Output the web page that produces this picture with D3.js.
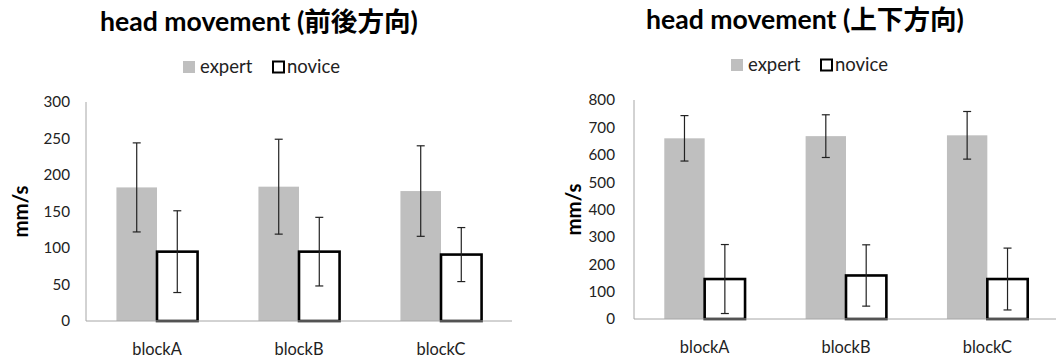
<!DOCTYPE html>
<html>
<head>
<meta charset="utf-8">
<script src="https://cdn.jsdelivr.net/npm/d3@7"></script>
<style>
  html, body { margin: 0; padding: 0; background: #fff; }
  svg { display: block; font-family: Lato, "Noto Sans CJK JP", sans-serif; }
  .title { font-weight: bold; font-family: Lato, "Noto Sans CJK JP", sans-serif; }
</style>
</head>
<body>
<svg id="chart" width="1056" height="360"></svg>
<script>
// Categories and series
const blocks = ["blockA", "blockB", "blockC"];
const seriesNames = ["expert", "novice"];

// Forward/backward head movement (mm/s): means and error bar half-widths
const fbExpert = [183, 184, 178];
const fbExpertErr = [61, 65, 62];
const fbNovice = [95, 95, 91];
const fbNoviceErr = [56, 47, 37];
const fbTicks = [0, 50, 100, 150, 200, 250, 300];

// Up/down head movement (mm/s)
const udExpert = [660, 668, 671];
const udExpertErr = [83, 78, 87];
const udNovice = [146, 159, 146];
const udNoviceErr = [126, 112, 113];
const udTicks = [0, 100, 200, 300, 400, 500, 600, 700, 800];

const svg = d3.select("#chart");

function drawPanel(opt) {
  const g = svg.append("g");
  const x0 = d3.scaleBand().domain(blocks).range([opt.left, opt.right]).padding(0);
  const barW = x0.bandwidth() / 3.5;   // two bars + 150% gap
  const x1 = d3.scaleBand().domain(seriesNames).range([0, 2 * barW]);
  const y = d3.scaleLinear().domain([0, opt.max]).range([opt.bottom, opt.top]);

  // title
  g.append("text").attr("class", "title")
    .attr("x", opt.titleX).attr("y", opt.titleY)
    .attr("text-anchor", "middle").attr("font-size", 26.6)
    .text(opt.title);

  // legend
  const lg = g.append("g").attr("transform", `translate(${opt.legendX},${opt.legendY})`);
  lg.append("rect").attr("x", 0).attr("y", -12).attr("width", 12).attr("height", 12).attr("fill", "#bfbfbf");
  lg.append("text").attr("x", 17).attr("y", 0).attr("font-size", 18.5).attr("fill", "#222").text("expert");
  lg.append("rect").attr("x", 90).attr("y", -11.5).attr("width", 11).attr("height", 11)
    .attr("fill", "#fff").attr("stroke", "#000").attr("stroke-width", 2);
  lg.append("text").attr("x", 104).attr("y", 0).attr("font-size", 18.5).attr("fill", "#222").text("novice");

  // y axis
  const yAxis = d3.axisLeft(y).tickValues(opt.ticks).tickSize(0).tickPadding(opt.tickPad);
  const ya = g.append("g").attr("transform", `translate(${opt.left},0)`).call(yAxis);
  ya.select(".domain").attr("stroke", "#a6a6a6").attr("d", `M0,${opt.top}V${opt.bottom}`);
  ya.selectAll("text").attr("font-size", 15.2).attr("fill", "#222").attr("font-family", "Lato, sans-serif");

  // y axis title
  g.append("text").attr("class", "title")
    .attr("transform", `translate(${opt.yTitleX},${(opt.top + opt.bottom) / 2}) rotate(-90)`)
    .attr("text-anchor", "middle").attr("dominant-baseline", "central")
    .attr("font-size", 20.5).text("mm/s");

  // bars
  const data = blocks.map((b, i) => ({
    block: b,
    values: [
      { s: "expert", v: opt.expert[i], e: opt.expertErr[i] },
      { s: "novice", v: opt.novice[i], e: opt.noviceErr[i] }
    ]
  }));
  const groups = g.selectAll(".grp").data(data).join("g")
    .attr("transform", d => `translate(${x0(d.block) + (x0.bandwidth() - 2 * barW) / 2},0)`);

  groups.selectAll("rect").data(d => d.values).join("rect")
    .attr("x", d => x1(d.s))
    .attr("y", d => y(d.v))
    .attr("width", barW)
    .attr("height", d => y(0) - y(d.v))
    .attr("fill", d => d.s === "expert" ? "#bfbfbf" : "#fff")
    .attr("stroke", d => d.s === "expert" ? "none" : "#000")
    .attr("stroke-width", 2.6);

  // x axis
  const xa = g.append("g").attr("transform", `translate(0,${opt.bottom})`)
    .call(d3.axisBottom(x0).tickSize(0).tickPadding(22));
  xa.select(".domain").attr("stroke", "#a6a6a6").attr("d", `M${opt.left},0H${opt.axisEnd}`);
  xa.selectAll("text").attr("font-size", 16.4).attr("fill", "#222").attr("font-family", "Lato, sans-serif");

  // error bars
  const eb = groups.selectAll(".eb").data(d => d.values).join("g").attr("class", "eb")
    .attr("stroke", "#222").attr("stroke-width", 1.2);
  const cx = d => x1(d.s) + barW / 2;
  eb.append("line").attr("x1", cx).attr("x2", cx)
    .attr("y1", d => y(d.v + d.e)).attr("y2", d => y(d.v - d.e));
  eb.append("line").attr("x1", d => cx(d) - 4).attr("x2", d => cx(d) + 4)
    .attr("y1", d => y(d.v + d.e)).attr("y2", d => y(d.v + d.e));
  eb.append("line").attr("x1", d => cx(d) - 4).attr("x2", d => cx(d) + 4)
    .attr("y1", d => y(d.v - d.e)).attr("y2", d => y(d.v - d.e));
}

drawPanel({
  title: "head movement (前後方向)",
  titleX: 259, titleY: 31,
  legendX: 183, legendY: 73,
  left: 86, right: 512, axisEnd: 512, top: 102, bottom: 321, max: 300,
  ticks: fbTicks, tickPad: 16, yTitleX: 20,
  expert: fbExpert, expertErr: fbExpertErr, novice: fbNovice, noviceErr: fbNoviceErr
});

drawPanel({
  title: "head movement (上下方向)",
  titleX: 805, titleY: 29,
  legendX: 731, legendY: 71,
  left: 634, right: 1058, axisEnd: 1056, top: 100, bottom: 319, max: 800,
  ticks: udTicks, tickPad: 19, yTitleX: 573,
  expert: udExpert, expertErr: udExpertErr, novice: udNovice, noviceErr: udNoviceErr
});
</script>
</body>
</html>
